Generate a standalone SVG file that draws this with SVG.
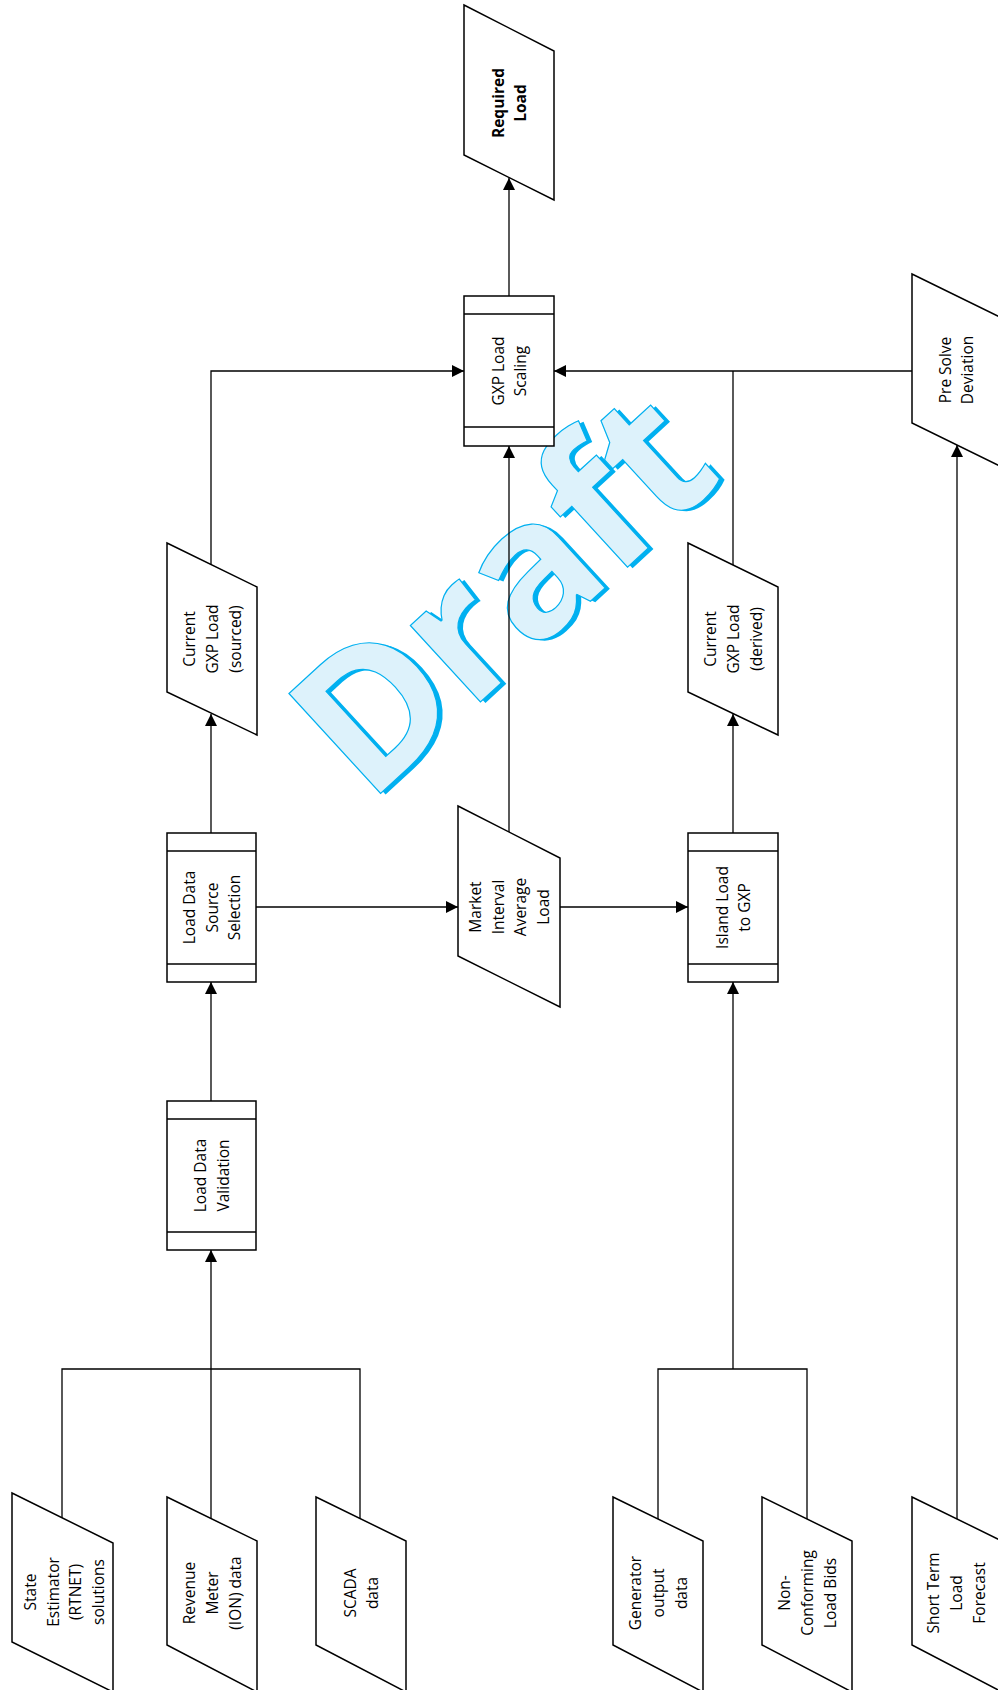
<svg xmlns="http://www.w3.org/2000/svg" width="998" height="1690" viewBox="0 0 998 1690">
<defs>
<style>
.shape{fill:#fff;stroke:#000;stroke-width:1.5}
.inner{fill:none;stroke:#000;stroke-width:1.5}
.conn{fill:none;stroke:#000;stroke-width:1.3}
.lbl{font-family:"Open Sans","Noto Sans","DejaVu Sans",sans-serif;font-size:15.5px;text-anchor:middle;fill:#000}
.bold{font-weight:bold}
.wm{font-family:"Open Sans","Noto Sans",sans-serif;font-weight:bold;font-size:190px;letter-spacing:-3px}
</style>
<marker id="arr" markerUnits="userSpaceOnUse" markerWidth="13" markerHeight="13" refX="12" refY="6" orient="auto">
<path d="M0,0 L12,6 L0,12 z" fill="#000"/>
</marker>
</defs>
<rect width="998" height="1690" fill="#fff"/>

<g id="watermark" transform="translate(368,805) rotate(-42.5)">
<text class="wm" x="3" y="4" fill="#00B0F0">Draft</text>
<text class="wm" x="0" y="0" fill="#DDF2FB" stroke="#00B0F0" stroke-width="1.2">Draft</text>
</g>

<g id="connectors">
<path class="conn" d="M509,296 V178" marker-end="url(#arr)"/>
<path class="conn" d="M211,565 V371 H464" marker-end="url(#arr)"/>
<path class="conn" d="M912,371 H554" marker-end="url(#arr)"/>
<path class="conn" d="M733,565 V371"/>
<path class="conn" d="M509,832 V446" marker-end="url(#arr)"/>
<path class="conn" d="M211,833 V714" marker-end="url(#arr)"/>
<path class="conn" d="M256,907 H458" marker-end="url(#arr)"/>
<path class="conn" d="M560,907 H688" marker-end="url(#arr)"/>
<path class="conn" d="M733,833 V714" marker-end="url(#arr)"/>
<path class="conn" d="M211,1101 V982" marker-end="url(#arr)"/>
<path class="conn" d="M211,1519 V1250" marker-end="url(#arr)"/>
<path class="conn" d="M62,1518 V1369 H360 V1519"/>
<path class="conn" d="M658,1519 V1369 H807 V1519"/>
<path class="conn" d="M733,1369 V982" marker-end="url(#arr)"/>
<path class="conn" d="M957,1519 V445" marker-end="url(#arr)"/>
</g>

<g id="required-load">
<path class="shape" d="M464,5 L554,51 L554,200 L464,155 Z"/>
<text class="lbl bold" transform="translate(509,103) rotate(-90)"><tspan x="0" y="-5.4">Required</tspan><tspan x="0" y="17.4">Load</tspan></text>
</g>

<g id="gxp-load-scaling">
<rect class="shape" x="464" y="296" width="90" height="150"/>
<path class="inner" d="M464,314 H554 M464,427 H554"/>
<text class="lbl" transform="translate(509,371) rotate(-90)"><tspan x="0" y="-5.4">GXP Load</tspan><tspan x="0" y="17.4">Scaling</tspan></text>
</g>

<g id="current-gxp-sourced">
<path class="shape" d="M167,543 L257,587 L257,735 L167,692 Z"/>
<text class="lbl" transform="translate(212,639) rotate(-90)"><tspan x="0" y="-16.7">Current</tspan><tspan x="0" y="6">GXP Load</tspan><tspan x="0" y="28.7">(sourced)</tspan></text>
</g>

<g id="current-gxp-derived">
<path class="shape" d="M688,543 L778,587 L778,735 L688,692 Z"/>
<text class="lbl" transform="translate(733,639) rotate(-90)"><tspan x="0" y="-16.7">Current</tspan><tspan x="0" y="6">GXP Load</tspan><tspan x="0" y="28.7">(derived)</tspan></text>
</g>

<g id="pre-solve-deviation">
<path class="shape" d="M912,274 L1002,318 L1002,467 L912,423 Z"/>
<text class="lbl" transform="translate(956,370) rotate(-90)"><tspan x="0" y="-5.4">Pre Solve</tspan><tspan x="0" y="17.4">Deviation</tspan></text>
</g>

<g id="load-data-source-selection">
<rect class="shape" x="167" y="833" width="89" height="149"/>
<path class="inner" d="M167,851 H256 M167,964 H256"/>
<text class="lbl" transform="translate(211.5,907.5) rotate(-90)"><tspan x="0" y="-16.7">Load Data</tspan><tspan x="0" y="6">Source</tspan><tspan x="0" y="28.7">Selection</tspan></text>
</g>

<g id="market-interval-average-load">
<path class="shape" d="M458,806 L560,858 L560,1007 L458,956 Z"/>
<text class="lbl" transform="translate(509,907) rotate(-90)"><tspan x="0" y="-28">Market</tspan><tspan x="0" y="-5.4">Interval</tspan><tspan x="0" y="17.4">Average</tspan><tspan x="0" y="40">Load</tspan></text>
</g>

<g id="island-load-to-gxp">
<rect class="shape" x="688" y="833" width="90" height="149"/>
<path class="inner" d="M688,851 H778 M688,964 H778"/>
<text class="lbl" transform="translate(733,907.5) rotate(-90)"><tspan x="0" y="-5.4">Island Load</tspan><tspan x="0" y="17.4">to GXP</tspan></text>
</g>

<g id="load-data-validation">
<rect class="shape" x="167" y="1101" width="89" height="149"/>
<path class="inner" d="M167,1119 H256 M167,1232 H256"/>
<text class="lbl" transform="translate(211.5,1175.5) rotate(-90)"><tspan x="0" y="-5.4">Load Data</tspan><tspan x="0" y="17.4">Validation</tspan></text>
</g>

<g id="state-estimator">
<path class="shape" d="M12,1493 L113,1543 L113,1692 L12,1642 Z"/>
<text class="lbl" transform="translate(64,1592) rotate(-90)"><tspan x="0" y="-28">State</tspan><tspan x="0" y="-5.4">Estimator</tspan><tspan x="0" y="17.4">(RTNET)</tspan><tspan x="0" y="40">solutions</tspan></text>
</g>

<g id="revenue-meter">
<path class="shape" d="M167,1497 L257,1541 L257,1692 L167,1645 Z"/>
<text class="lbl" transform="translate(212,1593) rotate(-90)"><tspan x="0" y="-16.7">Revenue</tspan><tspan x="0" y="6">Meter</tspan><tspan x="0" y="28.7">(ION) data</tspan></text>
</g>

<g id="scada-data">
<path class="shape" d="M316,1497 L406,1541 L406,1692 L316,1645 Z"/>
<text class="lbl" transform="translate(361,1593) rotate(-90)"><tspan x="0" y="-5.4">SCADA</tspan><tspan x="0" y="17.4">data</tspan></text>
</g>

<g id="generator-output-data">
<path class="shape" d="M613,1497 L703,1541 L703,1692 L613,1645 Z"/>
<text class="lbl" transform="translate(658,1593) rotate(-90)"><tspan x="0" y="-16.7">Generator</tspan><tspan x="0" y="6">output</tspan><tspan x="0" y="28.7">data</tspan></text>
</g>

<g id="non-conforming-load-bids">
<path class="shape" d="M762,1497 L852,1541 L852,1692 L762,1645 Z"/>
<text class="lbl" transform="translate(807,1593) rotate(-90)"><tspan x="0" y="-16.7">Non-</tspan><tspan x="0" y="6">Conforming</tspan><tspan x="0" y="28.7">Load Bids</tspan></text>
</g>

<g id="short-term-load-forecast">
<path class="shape" d="M912,1497 L1002,1541 L1002,1692 L912,1645 Z"/>
<text class="lbl" transform="translate(956,1593) rotate(-90)"><tspan x="0" y="-16.7">Short Term</tspan><tspan x="0" y="6">Load</tspan><tspan x="0" y="28.7">Forecast</tspan></text>
</g>
</svg>
